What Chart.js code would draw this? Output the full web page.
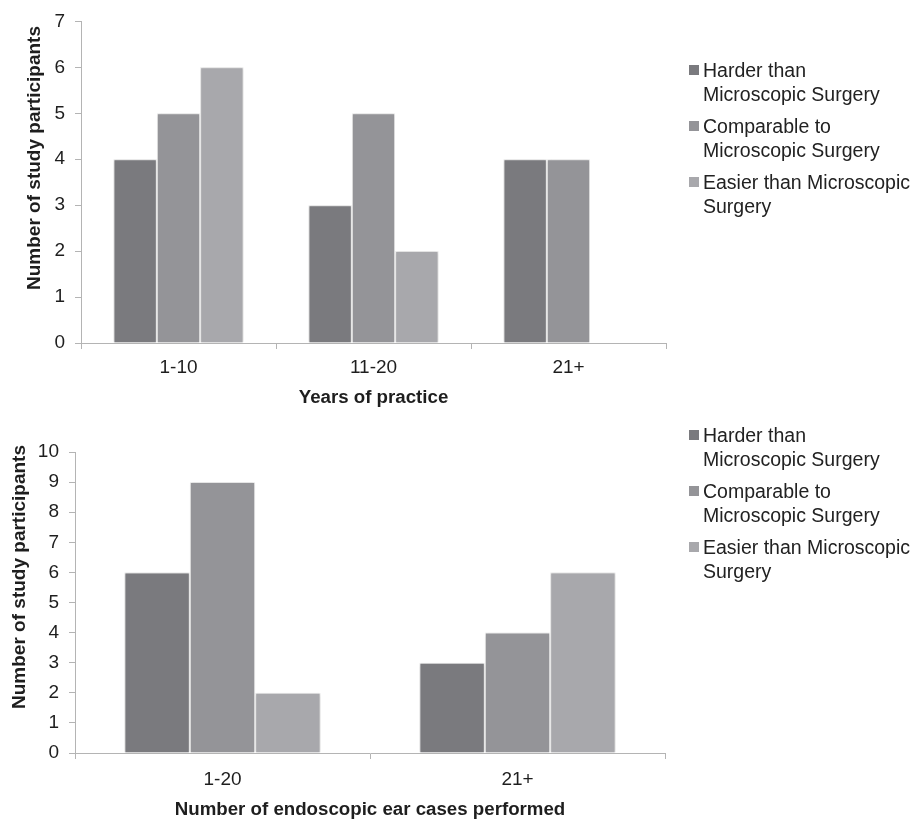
<!DOCTYPE html>
<html>
<head>
<meta charset="utf-8">
<script src="https://cdn.jsdelivr.net/npm/chart.js@4.4.1/dist/chart.umd.min.js"></script>
<style>
  html, body { margin: 0; padding: 0; background: #ffffff; overflow: hidden; width: 917px; height: 821px; }
  #wrap { position: relative; width: 917px; height: 821px; overflow: hidden; }
  #wrap canvas { position: absolute; left: 0; }
  .legend { position: absolute; font-family: "Liberation Sans", Arial, sans-serif; font-size: 19.5px; line-height: 24px; color: #222222; }
  .legend .item { position: relative; padding-left: 14px; margin-bottom: 8px; white-space: nowrap; }
  .legend .swatch { position: absolute; left: 0; top: 7px; width: 10px; height: 10px; }
</style>
</head>
<body>
<div id="wrap">
  <canvas id="years" width="917" height="415" style="top:0px"></canvas>
  <canvas id="cases" width="917" height="415" style="top:415px"></canvas>
  <div class="legend" id="legendYears" style="left:689px; top:58px"></div>
  <div class="legend" id="legendCases" style="left:689px; top:423px"></div>
</div>
<script>
// Survey answers: how endoscopic ear surgery compares with microscopic surgery
const yearsCategories = ['1-10', '11-20', '21+'];
const yearsHarder = [4, 3, 4];
const yearsComparable = [5, 5, 4];
const yearsEasier = [6, 2, 0];

const casesCategories = ['1-20', '21+'];
const casesHarder = [6, 3];
const casesComparable = [9, 4];
const casesEasier = [2, 6];

const seriesNames = ['Harder than Microscopic Surgery', 'Comparable to Microscopic Surgery', 'Easier than Microscopic Surgery'];
const seriesLegendLines = [
  ['Harder than', 'Microscopic Surgery'],
  ['Comparable to', 'Microscopic Surgery'],
  ['Easier than Microscopic', 'Surgery']
];
const yAxisTitle = 'Number of study participants';
const seriesColors = ['#7a7a7e', '#949498', '#a8a8ac'];

const FONT = '"Liberation Sans", Arial, Helvetica, sans-serif';
const AXIS_GRAY = '#b4b4b4';
const TEXT = '#1e1e1e';

// soft edge shading around the bars
const barShade = {
  id: 'barShade',
  beforeDatasetsDraw(chart) {
    const c = chart.ctx;
    c.save();
    c.shadowColor = 'rgba(0,0,0,0.18)';
    c.shadowBlur = 3;
    c.shadowOffsetX = 0;
    c.shadowOffsetY = 0;
  },
  afterDatasetsDraw(chart) { chart.ctx.restore(); }
};

// rotated value-axis title, placed a little above the plot's middle
const sideTitle = {
  id: 'sideTitle',
  afterDraw(chart, args, opts) {
    const c = chart.ctx;
    c.save();
    c.translate(opts.x, opts.y);
    c.rotate(-Math.PI / 2);
    c.font = 'bold 19px ' + FONT;
    c.fillStyle = TEXT;
    c.textAlign = 'center';
    c.textBaseline = 'middle';
    c.fillText(opts.text, 0, 0);
    c.restore();
  }
};

function buildChart(id, categories, series, cfg) {
  const datasets = series.map((vals, i) => ({
    label: seriesNames[i],
    data: vals,
    backgroundColor: seriesColors[i],
    borderColor: '#f4f4f4',
    borderWidth: { top: 1, left: 1, right: 1, bottom: 0 },
    borderSkipped: 'start',
    categoryPercentage: cfg.groupShare,
    barPercentage: 1.0
  }));
  return new Chart(document.getElementById(id), {
    type: 'bar',
    data: { labels: categories, datasets },
    plugins: [barShade, sideTitle],
    options: {
      responsive: false,
      animation: false,
      devicePixelRatio: 1,
      layout: { padding: { top: cfg.plotTop, right: cfg.rightPad, bottom: 0, left: 0 } },
      plugins: {
        legend: { display: false },
        tooltip: { enabled: false },
        sideTitle: { text: yAxisTitle, x: cfg.yTitleX, y: cfg.yTitleY }
      },
      scales: {
        x: {
          grid: { display: true, offset: true, drawOnChartArea: false, drawTicks: true, tickLength: 6, color: AXIS_GRAY, lineWidth: 1 },
          border: { display: true, color: AXIS_GRAY, width: 1 },
          ticks: { font: { family: FONT, size: 19 }, color: TEXT, padding: cfg.xTickPad, maxRotation: 0 },
          title: { display: true, text: cfg.xTitle, font: { family: FONT, size: 18.7, weight: 'bold' }, color: TEXT, padding: { top: 4, bottom: cfg.xTitlePad } },
          afterFit(scale) { scale.height = cfg.xHeight; }
        },
        y: {
          min: 0,
          max: cfg.yMax,
          grid: { display: true, drawOnChartArea: false, drawTicks: true, tickLength: 6, color: AXIS_GRAY, lineWidth: 1 },
          border: { display: true, color: AXIS_GRAY, width: 1 },
          ticks: { stepSize: 1, font: { family: FONT, size: 19 }, color: TEXT, padding: 10 },
          title: { display: false },
          afterFit(scale) { scale.width = cfg.yWidth; }
        }
      }
    }
  });
}

function buildLegend(id) {
  const box = document.getElementById(id);
  seriesLegendLines.forEach((lines, i) => {
    const item = document.createElement('div');
    item.className = 'item';
    const sw = document.createElement('span');
    sw.className = 'swatch';
    sw.style.background = seriesColors[i];
    item.appendChild(sw);
    lines.forEach(t => {
      const ln = document.createElement('div');
      ln.textContent = t;
      item.appendChild(ln);
    });
    box.appendChild(item);
  });
}

buildChart('years', yearsCategories, [yearsHarder, yearsComparable, yearsEasier], {
  groupShare: 0.667, plotTop: 18, rightPad: 251, xHeight: 72, xTickPad: 7, xTitlePad: 6,
  yMax: 7, yWidth: 81, yTitleX: 35, yTitleY: 158, xTitle: 'Years of practice'
});
buildChart('cases', casesCategories, [casesHarder, casesComparable, casesEasier], {
  groupShare: 0.665, plotTop: 37, rightPad: 252, xHeight: 77, xTickPad: 9, xTitlePad: 9,
  yMax: 10, yWidth: 75, yTitleX: 20, yTitleY: 162, xTitle: 'Number of endoscopic ear cases performed'
});
buildLegend('legendYears');
buildLegend('legendCases');
</script>
</body>
</html>
